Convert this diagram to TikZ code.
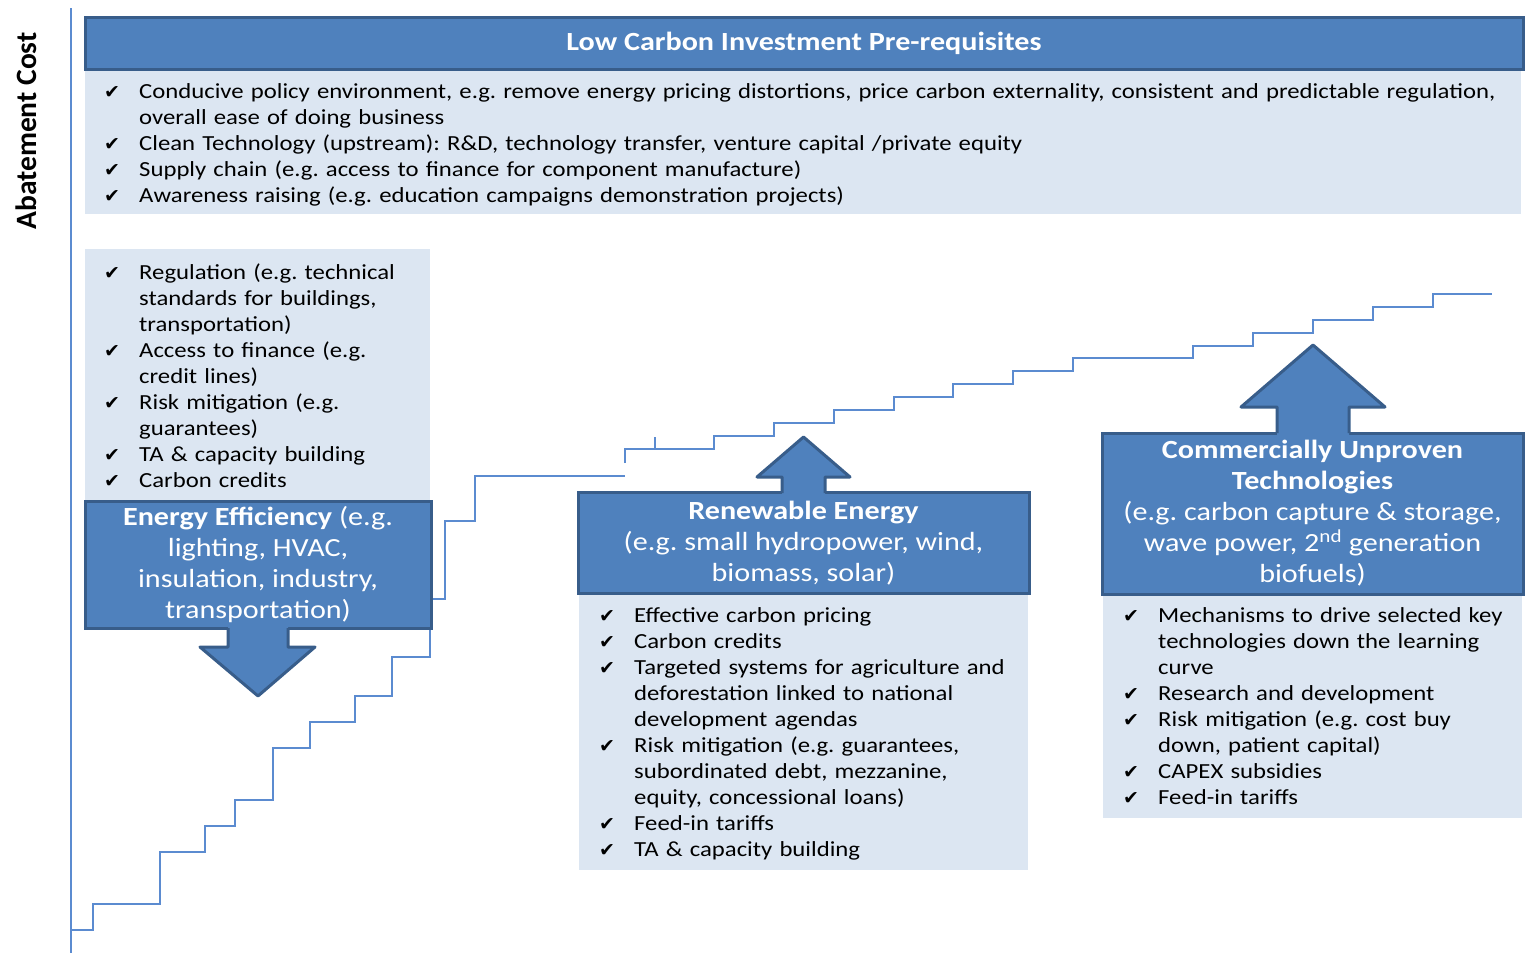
\documentclass[tikz,border=0pt]{standalone}
\usepackage{fontspec}
\setmainfont{Carlito}[FakeStretch=1.15]
\newfontfamily\axisfont{Carlito}
\newfontfamily\tickfont{DejaVu Sans}
\usepackage{tikz}
\definecolor{boxblue}{HTML}{4F81BD}
\definecolor{edgeblue}{HTML}{385D8A}
\definecolor{paleblue}{HTML}{DCE6F2}
\definecolor{stairblue}{HTML}{5B8BD0}
\newcommand{\listfont}{\fontsize{21.5}{26}\selectfont\frenchspacing}
\newcommand{\headfont}{\fontsize{26.2}{31}\selectfont\frenchspacing}
\newcommand{\tick}[1]{\hangindent=35pt\hangafter=1\noindent\makebox[35pt][l]{{\tickfont\fontsize{19}{22}\selectfont ✔}}#1\par}
\newcommand{\uparrowshape}[6]{%
  \fill[boxblue] (#1,#5+2) -- (#1,#4) -- (#1-#6,#4) -- ({(#1+#2)/2},#3) -- (#2+#6,#4) -- (#2,#4) -- (#2,#5+2) -- cycle;
  \draw[edgeblue, line width=3pt, line join=round] (#1,#5) -- (#1,#4) -- (#1-#6,#4) -- ({(#1+#2)/2},#3) -- (#2+#6,#4) -- (#2,#4) -- (#2,#5);}
\tikzset{
  headbox/.style={draw=edgeblue, line width=3pt, fill=boxblue, text=white, align=center, inner sep=0pt, font=\headfont},
  listbox/.style={fill=paleblue, inner sep=0pt, anchor=north west},
  listtext/.style={anchor=base west, inner sep=0pt, font=\listfont, align=left},
  stair/.style={stairblue, line width=1.5pt},
}

\begin{document}
\begin{tikzpicture}[x=1pt,y=-1pt]
\useasboundingbox (0,0) rectangle (1533,953);

% axis
\draw[stair] (71,8) -- (71,953);
\node[rotate=90, font=\axisfont\fontsize{29.5}{34}\selectfont\bfseries] (axislabel) at (26,131) {Abatement Cost};

% cost staircase
\draw[stair] (71,930) -- (93,930) -- (93,904) -- (160,904) -- (160,852) -- (205,852) -- (205,826)
  -- (235,826) -- (235,800) -- (273,800) -- (273,748) -- (310,748) -- (310,722) -- (355,722)
  -- (355,696) -- (392,696) -- (392,657) -- (430,657) -- (430,629);
\draw[stair] (432,599) -- (445,599) -- (445,521) -- (475,521) -- (475,476) -- (625,476);
\draw[stair] (625,463) -- (625,449) -- (714,449) -- (714,436) -- (774,436) -- (774,423) -- (834,423)
  -- (834,410) -- (894,410) -- (894,397) -- (953,397) -- (953,384) -- (1013,384) -- (1013,371)
  -- (1073,371) -- (1073,358) -- (1193,358) -- (1193,346) -- (1253,346) -- (1253,333) -- (1313,333)
  -- (1313,320) -- (1373,320) -- (1373,307) -- (1433,307) -- (1433,294) -- (1492,294);
\draw[stair] (655,449) -- (655,437);

% pre-requisites
\node[listbox, minimum width=1436pt, minimum height=145pt] (prelist) at (85,69) {};
\node[headbox, minimum width=1438pt, minimum height=52pt] (pre) at (804,43) {\textbf{Low Carbon Investment Pre-requisites}};
\node[listtext, text width=1500pt] (pretext) at (104,98) {%
\tick{Conducive policy environment, e.g. remove energy pricing distortions, price carbon externality, consistent and predictable regulation,\newline overall ease of doing business}
\tick{Clean Technology (upstream): R\&D, technology transfer, venture capital /private equity}
\tick{Supply chain (e.g. access to finance for component manufacture)}
\tick{Awareness raising (e.g. education campaigns demonstration projects)}};

% energy efficiency
\node[listbox, minimum width=345pt, minimum height=251pt] (eelist) at (85,249) {};
\node[listtext, text width=420pt] (eetext) at (104,279) {%
\tick{Regulation (e.g. technical\newline standards for buildings,\newline transportation)}
\tick{Access to finance (e.g.\newline credit lines)}
\tick{Risk mitigation (e.g.\newline guarantees)}
\tick{TA \& capacity building}
\tick{Carbon credits}};
\node[headbox, minimum width=346pt, minimum height=127pt] (ee) at (258,564.5) {\textbf{Energy Efficiency} (e.g.\\ lighting, HVAC,\\ insulation, industry,\\ transportation)};
\fill[boxblue] (228,626) -- (228,647) -- (200,647) -- (258,696) -- (315,647) -- (288,647) -- (288,626) -- cycle;
\draw[edgeblue, line width=3pt, line join=round] (228,628) -- (228,647) -- (200,647) -- (258,696) -- (315,647) -- (288,647) -- (288,628);

% renewable energy
\node[listbox, minimum width=449pt, minimum height=278pt] (relist) at (579,592) {};
\node[listtext, text width=520pt] (retext) at (599,622) {%
\tick{Effective carbon pricing}
\tick{Carbon credits}
\tick{Targeted systems for agriculture and\newline deforestation linked to national\newline development agendas}
\tick{Risk mitigation (e.g. guarantees,\newline subordinated debt, mezzanine,\newline equity, concessional loans)}
\tick{Feed-in tariffs}
\tick{TA \& capacity building}};
\node[headbox, minimum width=451pt, minimum height=101pt] (re) at (803.5,543) {\textbf{Renewable Energy}\\ (e.g. small hydropower, wind,\\ biomass, solar)};
\uparrowshape{782}{825}{437}{477}{493}{25}

% commercially unproven technologies
\node[listbox, minimum width=419pt, minimum height=225pt] (culist) at (1103,593) {};
\node[listtext, text width=480pt] (cutext) at (1123,622) {%
\tick{Mechanisms to drive selected key\newline technologies down the learning\newline curve}
\tick{Research and development}
\tick{Risk mitigation (e.g. cost buy\newline down, patient capital)}
\tick{CAPEX subsidies}
\tick{Feed-in tariffs}};
\node[headbox, minimum width=421pt, minimum height=161pt] (cu) at (1312.5,513.5) {\textbf{Commercially Unproven}\\ \textbf{Technologies}\\ (e.g. carbon capture \& storage,\\ wave power, 2\textsuperscript{nd} generation\\ biofuels)};
\uparrowshape{1277}{1349}{345}{407}{433}{36}

\end{tikzpicture}
\end{document}
